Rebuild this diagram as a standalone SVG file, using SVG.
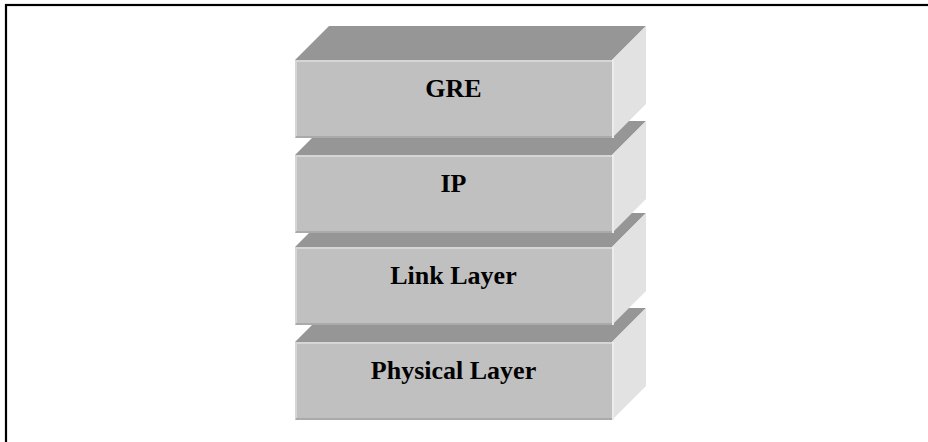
<svg xmlns="http://www.w3.org/2000/svg" width="928" height="442" viewBox="0 0 928 442">
<style>
.front{fill:#c0c0c0}
.top{fill:#969696}
.side{fill:#e2e2e2}
.hl{stroke:#d6d6d6;stroke-width:2;fill:none}
.sh{stroke:#aaaaaa;stroke-width:2;fill:none}
.lbl{font-family:"Liberation Serif","Times New Roman",serif;font-weight:bold;font-size:26px;fill:#000;text-anchor:middle}
</style>
<rect x="0" y="0" width="928" height="442" fill="#fff"/>
<rect x="6" y="5" width="930" height="450" fill="none" stroke="#000" stroke-width="2.2"/>
<defs>
<g id="box">
<polygon class="top" points="0,0 34,-34 351,-34 317,0"/>
<polygon class="side" points="317,0 351,-34 351,44 317,78"/>
<rect class="front" x="0" y="0" width="317" height="78"/>
<path class="hl" d="M1,77 V1 H317"/>
<path class="sh" d="M1,77 H317"/>
<path d="M318,0 V78" stroke="#ececec" stroke-width="2"/>
</g>
</defs>
<g id="physical">
<use href="#box" x="295" y="342"/>
<text class="lbl" x="453.5" y="379">Physical Layer</text>
</g>
<g id="link">
<use href="#box" x="295" y="247"/>
<text class="lbl" x="453.5" y="284">Link Layer</text>
</g>
<g id="ip">
<use href="#box" x="295" y="155"/>
<text class="lbl" x="453.5" y="192">IP</text>
</g>
<g id="gre">
<use href="#box" x="295" y="60"/>
<text class="lbl" x="453.5" y="97">GRE</text>
</g>
<g id="connectors"></g>
</svg>
